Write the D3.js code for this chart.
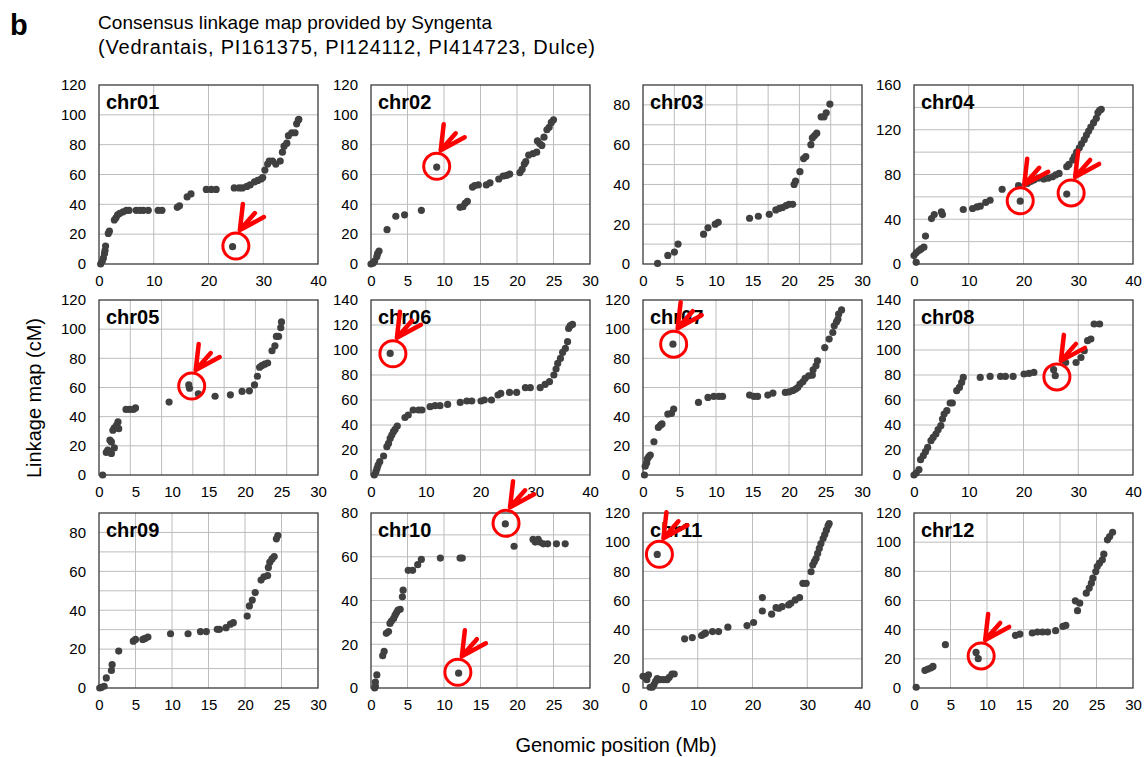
<!DOCTYPE html>
<html>
<head>
<meta charset="utf-8">
<script src="https://cdn.jsdelivr.net/npm/d3@7"></script>
<style>
  body { margin: 0; background: #fff; }
  svg { font-family: Arial, "Liberation Sans", sans-serif; }
</style>
</head>
<body>
<svg id="chart" width="1147" height="757"></svg>
<script>
// marker positions [Mb, cM]
const chr01 = [[0.3,0],[0.6,2],[0.8,4],[1.0,7],[1.1,9],[1.2,12],[1.7,20.5],[1.9,22],[2.8,29.5],[3.1,31],[3.4,33],[3.8,34],[4.4,35],[5.0,36],[5.5,36],[6.8,36],[7.5,36],[8.1,36],[9.0,36],[10.8,36],[11.5,36],[14.3,38],[14.7,39],[16.1,45],[16.8,47],[19.6,50],[20.5,50],[21.4,50],[24.4,11.6],[24.7,51],[25.6,51],[26.2,51],[27.0,52],[27.6,53],[28.4,55],[29.0,56],[29.6,57],[29.9,58],[30.3,63],[30.8,67],[31.1,69],[31.7,69],[32.3,67],[33.1,69],[33.5,75],[33.8,79],[34.3,81],[34.6,86],[35.2,88],[35.8,88],[36.1,94],[36.4,96.5],[36.5,97]];
const chr02 = [[0,0],[0.3,0.7],[0.5,2],[0.8,5],[0.9,7],[1.1,8.7],[2.2,23],[3.4,32],[4.6,33],[6.9,36],[9.0,65],[12.2,38],[12.6,38.4],[12.9,40.7],[13.2,42],[13.9,51.6],[14.2,52.6],[14.7,53],[15.8,53],[16.3,54.4],[17.5,57],[18.1,59],[18.6,59.4],[19.0,60.3],[20.4,61.3],[20.7,63.5],[21.0,67],[21.2,68.6],[21.6,73],[22.2,74],[22.7,75],[22.8,82.5],[23.1,80.7],[23.4,79.5],[23.7,85],[24.1,90],[24.4,91.6],[24.7,94.9],[25.0,96.7]];
const chr03 = [[2.0,0.3],[3.4,4.3],[4.3,6],[4.8,10],[8.3,15],[8.9,18.2],[9.9,20],[10.3,21],[14.6,23],[15.8,24],[17.3,25],[18.2,27.2],[18.7,28],[19.1,28.4],[19.6,29.4],[20.0,30],[20.5,30],[20.7,40],[20.9,41.7],[21.5,46.4],[22.0,53],[22.3,54],[23.0,60],[23.2,63.4],[23.5,64.6],[23.8,65.8],[24.4,74],[24.8,74],[25.1,76],[25.6,80.4]];
const chr04 = [[0,7.5],[0.4,10],[0.9,12],[1.3,13.5],[1.8,15],[0.4,1.5],[2.1,25],[3.2,40.6],[3.7,44.2],[5.0,46.6],[5.2,44.2],[9.0,48.7],[10.7,49.6],[11.5,51],[12.1,51.7],[13.1,55],[13.9,57],[16.1,66.8],[19.1,70],[19.4,56.2],[20.7,72],[21.3,73.7],[21.9,75],[22.7,76.7],[23.7,76],[24.5,76.7],[25.3,78],[25.9,79.7],[26.5,81],[27.9,62.5],[27.9,87],[28.3,89],[29.0,93],[29.3,96],[29.7,100],[30.2,103.8],[30.6,107.4],[31.1,111.3],[31.5,115.2],[31.9,118.8],[32.3,122.4],[32.8,126.3],[33.3,130.2],[33.6,135.3],[33.9,137.4],[34.2,138.3]];
const chr05 = [[0.5,0],[1.0,15.5],[1.2,17],[1.5,16],[1.7,14.8],[1.5,23.9],[1.7,22.7],[2.1,18.6],[1.9,30.7],[2.1,32.3],[2.4,34],[2.6,36.4],[2.7,31.8],[3.7,45],[4.2,45],[4.7,45],[5.0,46],[9.6,50],[12.3,61.8],[12.4,59.5],[13.6,55.7],[15.9,54],[18.0,55],[19.6,57.3],[20.6,57.7],[21.3,61.8],[21.7,67.7],[22.0,73.9],[22.3,75],[22.7,76],[23.1,76.8],[23.7,85.2],[24.1,88.6],[24.3,95],[24.6,95],[24.9,101],[25.0,105]];
const chr06 = [[0.6,0],[0.9,2.7],[1.1,5.3],[1.3,8],[1.6,10.7],[2.3,15.2],[2.9,22.7],[3.2,25.3],[3.5,29.3],[3.8,32],[4.1,34.7],[4.4,36.5],[4.8,39.2],[3.5,97.3],[6.2,46],[6.8,48],[7.7,52],[8.7,52],[9.3,52],[10.8,54.7],[11.7,55.5],[12.6,55.5],[14.0,56.5],[16.3,58.1],[17.5,59.2],[18.4,59.2],[20.1,59.2],[20.7,60],[22.0,60],[23.2,64],[23.7,65.3],[25.3,66.1],[26.6,66.1],[28.2,69.9],[29.1,69.9],[30.9,69.9],[31.8,72.5],[32.6,74.7],[33.4,80],[33.8,84.8],[34.1,89.3],[34.6,93.3],[35.0,98.1],[35.5,101.3],[35.9,106.7],[36.1,117.3],[36.4,119.5],[36.8,120.5]];
const chr07 = [[0.2,0],[0.3,6],[0.5,8.2],[0.6,11],[0.8,12.6],[1.0,13.7],[1.5,22.8],[2.1,32.6],[2.4,34.2],[2.6,35],[3.4,41.8],[3.9,42.2],[4.2,45.2],[4.1,89.7],[7.6,49.8],[8.9,53.2],[9.7,53.9],[10.4,53.9],[10.9,53.9],[14.6,54.8],[15.2,53.9],[15.7,53.9],[17.1,54.8],[17.8,56.2],[19.5,56.6],[20.0,57],[20.5,57.8],[20.9,58.9],[21.2,60],[21.5,62.3],[21.9,63.9],[22.2,66.2],[22.7,68],[23.2,68.5],[23.3,72.1],[23.7,74.9],[23.9,78.3],[24.9,87.4],[25.5,93.2],[26.0,97.7],[26.2,102.3],[26.5,105],[26.7,106.8],[26.8,110.3],[27.2,113.2]];
const chr08 = [[0,0],[0.4,1.6],[0.9,4.3],[1.2,12.3],[1.7,15.5],[2.1,18.7],[2.5,22.1],[3.1,27.5],[3.5,30.1],[4.0,32.8],[4.4,36.3],[4.9,39.5],[5.2,44.8],[5.5,48.8],[6.0,51.5],[6.6,57.6],[7.0,57.6],[7.8,67.5],[8.3,70.1],[8.7,74.1],[9.0,78.1],[12.1,78.1],[13.9,78.9],[15.8,78.9],[16.7,78.9],[18.1,78.9],[20.1,80.8],[21.0,81.3],[21.9,82.1],[25.5,84.3],[25.8,79.5],[27.7,90],[29.6,90],[30.5,94],[31.1,99.5],[31.7,107.5],[32.3,108.8],[32.9,120.8],[33.9,120.8]];
const chr09 = [[0.1,0],[0.3,0.3],[0.7,0.9],[1.0,5.2],[1.7,9],[1.8,12],[2.7,19],[4.7,24.1],[5.0,25],[6.0,25],[6.3,25.5],[6.7,26.2],[9.8,27.9],[12.2,27.9],[13.9,29],[14.7,29],[16.2,30.2],[16.5,30.2],[17.4,31],[18.0,32.8],[18.4,33.6],[20.3,37],[20.6,42.2],[21.0,45.2],[21.4,49.1],[22.2,55.5],[22.6,57.2],[23.1,57.8],[23.2,62],[23.4,64.7],[23.7,66.4],[24.0,67.6],[24.3,76.7],[24.5,78.4]];
const chr10 = [[0.5,0],[0.6,0.8],[0.6,2.7],[0.8,6],[1.6,14.8],[1.8,16.7],[2.1,25],[2.4,25.8],[2.6,29.5],[2.8,30.6],[3.1,31.8],[3.3,33.3],[3.5,34.5],[3.7,35.6],[4.0,36],[4.3,41.7],[4.4,44.7],[5.1,53.8],[5.7,53.8],[6.4,56.4],[6.9,58.8],[9.5,59.4],[12.2,59.4],[12.5,59.4],[12.0,6.8],[18.4,75],[19.6,64.8],[22.2,67.9],[22.5,66.7],[22.9,67.9],[23.1,66.7],[23.6,65.9],[24.2,65.9],[25.4,65.9],[26.6,65.9]];
const chr11 = [[0,8],[0.4,7.3],[0.7,5.7],[1.0,9.1],[1.3,0.5],[1.7,0.5],[2.0,2.3],[2.3,4.6],[2.6,6.4],[3.2,5.7],[3.8,5.7],[4.4,5.7],[4.8,7.3],[5.3,9.6],[5.7,9.6],[2.6,91.6],[7.6,33.7],[9.0,34.6],[10.7,36],[11.1,36.9],[11.4,37.6],[12.7,38.7],[13.8,38.7],[15.5,41.7],[19.0,42.8],[20.2,44.9],[21.8,62],[21.8,52.8],[23.5,50.6],[24.3,55.1],[24.8,54.7],[25.4,55.8],[26.6,57],[27.0,58.1],[27.8,60.4],[28.6,62],[29.2,71.8],[29.8,71.8],[30.7,79.7],[31.0,84.3],[31.3,86.6],[31.6,88.8],[31.9,92.3],[32.2,95.7],[32.5,99.1],[32.9,102.5],[33.2,105.2],[33.5,108.2],[33.8,111.2],[34.0,112.8]];
const chr12 = [[0.3,0.5],[1.5,12.1],[1.9,13],[2.3,13.7],[2.6,14.8],[4.3,29.7],[8.5,24.4],[8.8,20.1],[13.9,36.1],[14.5,37],[16.2,37.7],[16.9,38.4],[17.6,38.4],[18.3,38.4],[19.4,39.3],[20.4,42.2],[20.8,42.9],[22.1,59.8],[22.7,58.2],[22.4,53],[23.6,65],[24.0,68.5],[24.3,71.9],[24.5,75.3],[24.9,79.9],[25.1,83.3],[25.4,85.6],[25.8,87.9],[26.0,91.8],[26.5,101.6],[26.8,103.9],[27.2,106.8]];

// centres of the red rings around misplaced markers, [Mb, cM]
const marks01 = [[25.0, 12]];
const marks02 = [[9.0, 65.5]];
const marks04 = [[19.4, 56.5], [28.7, 63.5]];
const marks05 = [[12.7, 61]];
const marks06 = [[4.0, 97]];
const marks07 = [[4.2, 89.7]];
const marks08 = [[26.1, 78.5]];
const marks10 = [[11.9, 7.2], [18.5, 75.3]];
const marks11 = [[3.0, 91.7]];
const marks12 = [[9.2, 22]];

const panels = [
  { name: 'chr01', data: chr01, marks: marks01, xMax: 40, xStep: 10, yMax: 120, yStep: 20, yGrid: 20 },
  { name: 'chr02', data: chr02, marks: marks02, xMax: 30, xStep: 5,  yMax: 120, yStep: 20, yGrid: 20 },
  { name: 'chr03', data: chr03, marks: [],      xMax: 30, xStep: 5,  yMax: 90,  yStep: 20, yGrid: 10, xDiv: 7 },
  { name: 'chr04', data: chr04, marks: marks04, xMax: 40, xStep: 10, yMax: 160, yStep: 40, yGrid: 20 },
  { name: 'chr05', data: chr05, marks: marks05, xMax: 30, xStep: 5,  yMax: 120, yStep: 20, yGrid: 20, xDiv: 7 },
  { name: 'chr06', data: chr06, marks: marks06, xMax: 40, xStep: 10, yMax: 140, yStep: 20, yGrid: 20 },
  { name: 'chr07', data: chr07, marks: marks07, xMax: 30, xStep: 5,  yMax: 120, yStep: 20, yGrid: 20 },
  { name: 'chr08', data: chr08, marks: marks08, xMax: 40, xStep: 10, yMax: 140, yStep: 20, yGrid: 20 },
  { name: 'chr09', data: chr09, marks: [],      xMax: 30, xStep: 5,  yMax: 90,  yStep: 20, yGrid: 10 },
  { name: 'chr10', data: chr10, marks: marks10, xMax: 30, xStep: 5,  yMax: 80,  yStep: 20, yGrid: 10 },
  { name: 'chr11', data: chr11, marks: marks11, xMax: 40, xStep: 10, yMax: 120, yStep: 20, yGrid: 20 },
  { name: 'chr12', data: chr12, marks: marks12, xMax: 30, xStep: 5,  yMax: 120, yStep: 20, yGrid: 20 }
];

// panel grid geometry (pixels)
const colLeft = [99, 371, 643, 914];
const panelW = 219;
const rowTop = [85, 300, 513];
const rowH = [179, 175, 175];

const svg = d3.select('#chart');

svg.append('text')
  .attr('x', 10).attr('y', 35)
  .attr('font-size', 29).attr('font-weight', 'bold')
  .text('b');

svg.append('text')
  .attr('x', 98).attr('y', 29)
  .attr('font-size', 19)
  .attr('textLength', 394).attr('lengthAdjust', 'spacing')
  .text('Consensus linkage map provided by Syngenta');

svg.append('text')
  .attr('x', 98).attr('y', 54)
  .attr('font-size', 20)
  .attr('textLength', 497).attr('lengthAdjust', 'spacing')
  .text('(Vedrantais, PI161375, PI124112, PI414723, Dulce)');

svg.append('text')
  .attr('transform', 'translate(41,398) rotate(-90)')
  .attr('text-anchor', 'middle')
  .attr('font-size', 20)
  .text('Linkage map (cM)');

svg.append('text')
  .attr('x', 616).attr('y', 752)
  .attr('text-anchor', 'middle')
  .attr('font-size', 20)
  .text('Genomic position (Mb)');

const highlights = [];

panels.forEach((p, i) => {
  const col = i % 4, row = Math.floor(i / 4);
  const w = panelW, h = rowH[row];
  const g = svg.append('g').attr('transform', `translate(${colLeft[col]},${rowTop[row]})`);

  const x = d3.scaleLinear().domain([0, p.xMax]).range([0, w]);
  const y = d3.scaleLinear().domain([0, p.yMax]).range([h, 0]);

  // gridlines
  const xGrid = p.xDiv
    ? d3.range(1, p.xDiv).map(k => k * p.xMax / p.xDiv)
    : d3.range(p.xStep, p.xMax, p.xStep);
  const yGrid = d3.range(p.yGrid, p.yMax, p.yGrid);

  g.append('g').selectAll('line')
    .data(xGrid)
    .join('line')
    .attr('x1', d => x(d)).attr('x2', d => x(d))
    .attr('y1', 0).attr('y2', h)
    .attr('stroke', '#bdbdbd').attr('stroke-width', 1);

  g.append('g').selectAll('line')
    .data(yGrid)
    .join('line')
    .attr('x1', 0).attr('x2', w)
    .attr('y1', d => y(d)).attr('y2', d => y(d))
    .attr('stroke', '#bdbdbd').attr('stroke-width', 1);

  g.append('rect')
    .attr('width', w).attr('height', h)
    .attr('fill', 'none')
    .attr('stroke', '#3a3a3a').attr('stroke-width', 1.3);

  // axes
  const yAxis = g.append('g')
    .call(d3.axisLeft(y).tickValues(d3.range(0, p.yMax + 1, p.yStep)).tickSize(0).tickPadding(13));
  const xAxis = g.append('g')
    .attr('transform', `translate(0,${h})`)
    .call(d3.axisBottom(x).tickValues(d3.range(0, p.xMax + 1, p.xStep)).tickSize(0).tickPadding(11));
  [yAxis, xAxis].forEach(a => {
    a.select('.domain').remove();
    a.selectAll('text')
      .attr('font-size', 15)
      .attr('font-family', 'Arial, "Liberation Sans", sans-serif')
      .attr('fill', '#000');
  });

  g.append('text')
    .attr('x', 7).attr('y', 24)
    .attr('font-size', 20).attr('font-weight', 'bold')
    .text(p.name);

  // markers
  g.append('g').selectAll('circle')
    .data(p.data)
    .join('circle')
    .attr('cx', d => x(d[0]))
    .attr('cy', d => y(d[1]))
    .attr('r', 3.6)
    .attr('fill', '#404040');

  p.marks.forEach(m => {
    highlights.push({ cx: colLeft[col] + x(m[0]), cy: rowTop[row] + y(m[1]) });
  });
});

// red rings + arrows drawn last so they sit on top of everything
const overlay = svg.append('g');
highlights.forEach(a => {
  overlay.append('circle')
    .attr('cx', a.cx).attr('cy', a.cy).attr('r', 13)
    .attr('fill', 'none')
    .attr('stroke', '#f00').attr('stroke-width', 3);

  const tx = a.cx + 4, ty = a.cy - 16;
  overlay.append('path')
    .attr('d', `M${tx + 3},${ty - 26} L${tx},${ty} L${tx + 24},${ty - 13} M${tx},${ty} L${tx + 15},${ty - 17}`)
    .attr('fill', 'none')
    .attr('stroke', '#f00')
    .attr('stroke-width', 4.5)
    .attr('stroke-linecap', 'round')
    .attr('stroke-linejoin', 'round');
});
</script>
</body>
</html>
